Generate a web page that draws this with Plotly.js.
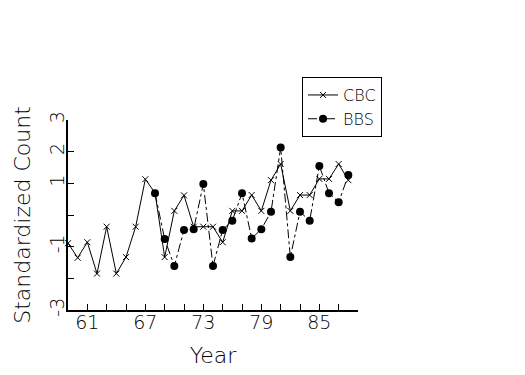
<!DOCTYPE html>
<html>
<head>
<meta charset="utf-8">
<script src="https://cdn.plot.ly/plotly-3.0.1.min.js"></script>
<style>html,body{margin:0;padding:0;background:#fff}#chart{width:525px;height:375px}</style>
</head>
<body>
<div id="chart"></div>
<script>
var cbcYears = [59,60,61,62,63,64,65,66,67,68,69,70,71,72,73,74,75,76,77,78,79,80,81,82,83,84,85,86,87,88];
var cbcValues = [-0.89,-1.35,-0.86,-1.85,-0.37,-1.85,-1.33,-0.37,1.13,0.7,-1.33,0.13,0.62,-0.37,-0.37,-0.37,-0.86,0.13,0.13,0.63,0.13,1.1,1.61,0.13,0.63,0.63,1.14,1.14,1.61,1.1];
var bbsYears = [68,69,70,71,72,73,74,75,76,77,78,79,80,81,82,83,84,85,86,87,88];
var bbsValues = [0.69,-0.76,-1.61,-0.47,-0.45,0.98,-1.61,-0.47,-0.18,0.69,-0.74,-0.45,0.1,2.13,-1.33,0.1,-0.18,1.55,0.69,0.4,1.26];
var xTickVals = [59,61,63,65,67,69,71,73,75,77,79,81,83,85,87,89];
var xTickText = ['','61','','','67','','','73','','','79','','','85','',''];
var yTickVals = [-3,-2,-1,0,1,2,3];
var yTickText = ['-3','','-1','','1','2','3'];

var FONT = 'DejaVu Sans ExtraLight, DejaVu Sans Light, DejaVu Sans, sans-serif';

var traces = [
  {x: cbcYears, y: cbcValues, name: 'CBC', mode: 'lines+markers', type: 'scatter',
   line: {color: '#000', width: 1, dash: 'solid'},
   marker: {symbol: 'x-thin-open', size: 6, color: '#000', line: {color: '#000', width: 1}},
   cliponaxis: false},
  {x: bbsYears, y: bbsValues, name: 'BBS', mode: 'lines+markers', type: 'scatter',
   line: {color: '#000', width: 1, dash: 'dashdot'},
   marker: {symbol: 'circle', size: 8, color: '#000'},
   cliponaxis: false}
];

var layout = {
  width: 525, height: 375,
  margin: {l: 68, r: 167, t: 120, b: 65, pad: 0},
  paper_bgcolor: '#fff', plot_bgcolor: '#fff',
  font: {family: FONT, color: '#000', size: 18},
  showlegend: true,
  legend: {x: 0.807, y: 1.226, xanchor: 'left', yanchor: 'top',
           bordercolor: '#000', borderwidth: 1, bgcolor: '#fff',
           font: {family: FONT, size: 16, color: '#000'}, tracegroupgap: 0},
  xaxis: {range: [59, 89], tickmode: 'array', tickvals: xTickVals, ticktext: xTickText,
          ticks: 'inside', ticklen: 6, tickwidth: 1, tickcolor: '#000', ticklabelstandoff: -6,
          showline: true, linecolor: '#000', linewidth: 2, showgrid: false, zeroline: false,
          tickfont: {family: FONT, size: 19, color: '#000'},
          title: {text: 'Year', font: {family: FONT, size: 22, color: '#000'}, standoff: 16}},
  yaxis: {range: [-3, 3], tickmode: 'array', tickvals: yTickVals, ticktext: yTickText,
          ticks: 'inside', ticklen: 6, tickwidth: 1, tickcolor: '#000', tickangle: -90, ticklabelstandoff: -6,
          showline: true, linecolor: '#000', linewidth: 2, showgrid: false, zeroline: false,
          tickfont: {family: FONT, size: 19, color: '#000'},
          title: {text: 'Standardized Count', font: {family: FONT, size: 22, color: '#000'}, standoff: 10}}
};

Plotly.newPlot('chart', traces, layout, {displayModeBar: false, staticPlot: true});
</script>
</body>
</html>
